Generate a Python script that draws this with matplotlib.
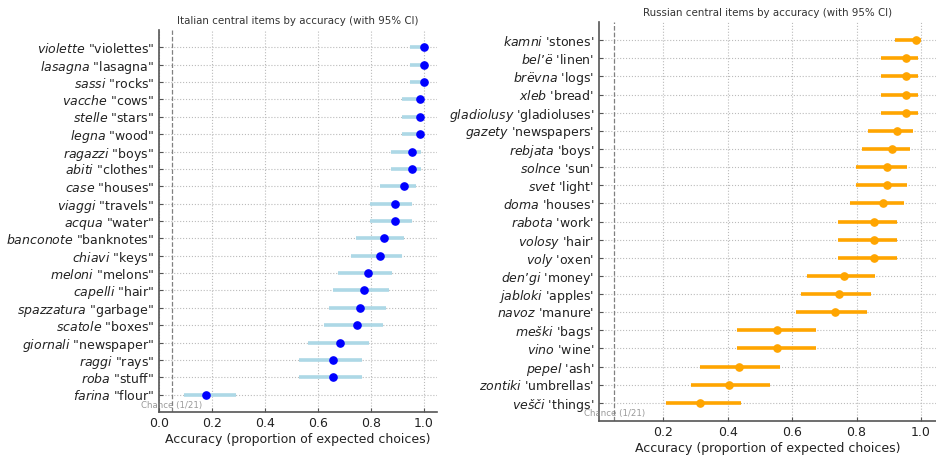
import matplotlib
matplotlib.use("Agg")
import matplotlib.pyplot as plt

# Italian panel (top to bottom)
it_words = ["violette", "lasagna", "sassi", "vacche", "stelle", "legna", "ragazzi",
            "abiti", "case", "viaggi", "acqua", "banconote", "chiavi", "meloni",
            "capelli", "spazzatura", "scatole", "giornali", "raggi", "roba", "farina"]
it_gloss = ["violettes", "lasagna", "rocks", "cows", "stars", "wood", "boys",
            "clothes", "houses", "travels", "water", "banknotes", "keys", "melons",
            "hair", "garbage", "boxes", "newspaper", "rays", "stuff", "flour"]
it_acc = [1.0, 1.0, 1.0, 0.984, 0.984, 0.984, 0.956, 0.956, 0.925, 0.893, 0.893,
          0.851, 0.836, 0.791, 0.776, 0.761, 0.746, 0.685, 0.657, 0.657, 0.179]
it_lo = [0.947, 0.947, 0.947, 0.918, 0.918, 0.918, 0.875, 0.875, 0.833, 0.797, 0.797,
         0.743, 0.726, 0.675, 0.657, 0.643, 0.625, 0.563, 0.530, 0.530, 0.095]
it_hi = [1.0, 1.0, 1.0, 1.0, 1.0, 1.0, 0.991, 0.991, 0.972, 0.956, 0.956,
         0.926, 0.916, 0.881, 0.868, 0.856, 0.845, 0.793, 0.768, 0.768, 0.292]

# Russian panel (top to bottom)
ru_words = ["kamni", "bel\u2019ë", "brëvna", "xleb", "gladiolusy", "gazety", "rebjata",
            "solnce", "svet", "doma", "rabota", "volosy", "voly", "den\u2019gi",
            "jabloki", "navoz", "meški", "vino", "pepel", "zontiki", "vešči"]
ru_gloss = ["stones", "linen", "logs", "bread", "gladioluses", "newspapers", "boys",
            "sun", "light", "houses", "work", "hair", "oxen", "money",
            "apples", "manure", "bags", "wine", "ash", "umbrellas", "things"]
ru_acc = [0.984, 0.954, 0.954, 0.954, 0.954, 0.925, 0.911, 0.896, 0.896, 0.882, 0.853,
          0.853, 0.853, 0.762, 0.747, 0.733, 0.554, 0.554, 0.435, 0.405, 0.315]
ru_lo = [0.921, 0.877, 0.877, 0.877, 0.877, 0.837, 0.817, 0.799, 0.799, 0.780, 0.744,
         0.744, 0.744, 0.646, 0.627, 0.611, 0.428, 0.428, 0.314, 0.287, 0.208]
ru_hi = [1.0, 0.991, 0.991, 0.991, 0.991, 0.975, 0.967, 0.956, 0.956, 0.946, 0.926,
         0.926, 0.926, 0.858, 0.846, 0.833, 0.674, 0.674, 0.561, 0.532, 0.440]

CHANCE = 1 / 21


def panel(ax, words, gloss, acc, lo, hi, q, pt_col, bar_col, title):
    n = len(words)
    ys = list(range(n - 1, -1, -1))
    ax.hlines(ys, lo, hi, color=bar_col, lw=2.6, zorder=2)
    ax.plot(acc, ys, "o", color=pt_col, ms=5.2, zorder=3, lw=0)
    ax.axvline(CHANCE, color="gray", ls="--", lw=0.9, zorder=1)
    ax.text(CHANCE, -0.6, "Chance (1/21)", ha="center", va="center",
            fontsize=6.2, color="gray", alpha=0.8)
    ax.set_yticks(ys)
    ax.set_yticklabels([rf"$\it{{{w}}}$ {q}{g}{q}" for w, g in zip(words, gloss)])
    ax.set_xlim(0, 1.05)
    ax.set_ylim(-1, n)
    ax.set_xticks([0, 0.2, 0.4, 0.6, 0.8, 1.0])
    ax.set_title(title, fontsize=7.4, color="#333333", pad=4.5)
    ax.set_xlabel("Accuracy (proportion of expected choices)", fontsize=9.0,
                  color="#222222", labelpad=2)
    ax.grid(True, ls=":", color="#bbbbbb", lw=0.8)
    ax.set_axisbelow(True)
    for s in ["top", "right"]:
        ax.spines[s].set_visible(False)
    for s in ["left", "bottom"]:
        ax.spines[s].set_color("#555555")
        ax.spines[s].set_linewidth(1.2)
    ax.tick_params(direction="in", labelsize=9.0, colors="#555555",
                   labelcolor="#222222", length=3)


fig = plt.figure(figsize=(9.37, 4.55), dpi=100)
W, H = 937, 455
ax1 = fig.add_axes([159 / W, 1 - 412 / H, (437 - 159) / W, (412 - 30) / H])
ax2 = fig.add_axes([599 / W, 1 - 421 / H, (937 - 599) / W, (421 - 22) / H])

panel(ax1, it_words, it_gloss, it_acc, it_lo, it_hi, '"', "blue", "lightblue",
      "Italian central items by accuracy (with 95% CI)")
panel(ax2, ru_words, ru_gloss, ru_acc, ru_lo, ru_hi, "'", "orange", "orange",
      "Russian central items by accuracy (with 95% CI)")
ax2.set_xticks([0.2, 0.4, 0.6, 0.8, 1.0])

fig.savefig("out.png", dpi=100)
